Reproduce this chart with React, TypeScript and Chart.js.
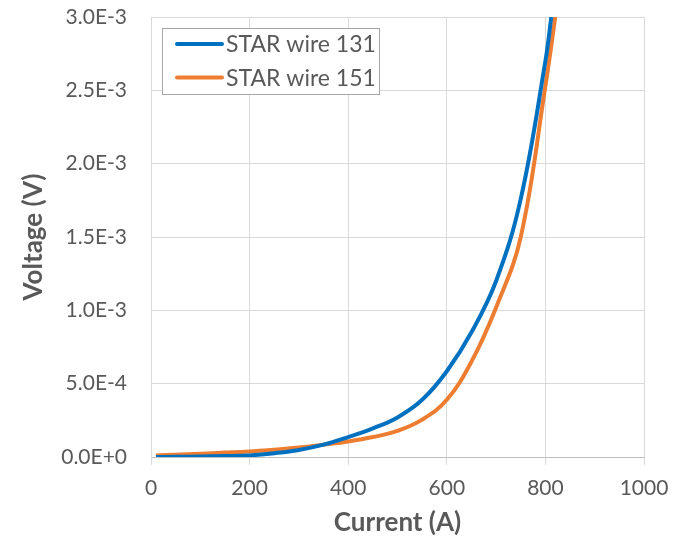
import React, { useEffect, useRef } from "react";
import { Chart, registerables } from "chart.js";

Chart.register(...registerables);

const seriesNames = ["STAR wire 131", "STAR wire 151"];
const seriesColors = ["#0070C0", "#ED7D31"];

const current131 = [10, 50, 100, 150, 200, 250, 300, 350, 400, 450, 500, 550, 600, 650, 700, 750, 800, 812];
const voltage131 = [0, 1e-6, 3e-6, 6e-6, 1.1e-5, 2.6e-5, 4.8e-5, 8.4e-5, 1.36e-4, 1.95e-4, 2.7e-4, 3.9e-4, 5.85e-4, 8.5e-4, 1.2e-3, 1.76e-3, 2.7e-3, 3.0e-3];

const current151 = [10, 50, 100, 150, 200, 250, 300, 350, 400, 450, 500, 550, 600, 650, 700, 750, 800, 820];
const voltage151 = [1e-5, 1.6e-5, 2.3e-5, 3e-5, 3.8e-5, 5e-5, 6.4e-5, 8.4e-5, 1.06e-4, 1.36e-4, 1.78e-4, 2.55e-4, 3.9e-4, 6.5e-4, 1.02e-3, 1.5e-3, 2.53e-3, 3.0e-3];

const xTicks = [0, 200, 400, 600, 800, 1000];
const yTicks = [0, 5e-4, 1e-3, 1.5e-3, 2e-3, 2.5e-3, 3e-3];

const xTitle = "Current (A)";
const yTitle = "Voltage (V)";

const FONT = "Lato, 'Open Sans', sans-serif";
const TEXT = "#595959";
const GRID = "#d9d9d9";

const insideLegend = {
  id: "insideLegend",
  afterDatasetsDraw(chart: any) {
    const ctx = chart.ctx;
    const area = chart.chartArea;
    const x0 = area.left + 11;
    const y0 = area.top + 11;
    const w = 217;
    const h = 66;
    ctx.save();
    ctx.fillStyle = "#ffffff";
    ctx.fillRect(x0, y0, w, h);
    ctx.strokeStyle = "#a6a6a6";
    ctx.lineWidth = 1;
    ctx.strokeRect(x0 + 0.5, y0 + 0.5, w, h);
    ctx.font = `23px ${FONT}`;
    ctx.textBaseline = "middle";
    ctx.textAlign = "left";
    chart.data.datasets.forEach((ds: any, i: number) => {
      const yy = y0 + 16 + i * 33.5;
      ctx.strokeStyle = ds.borderColor;
      ctx.lineWidth = 4;
      ctx.lineCap = "round";
      ctx.beginPath();
      ctx.moveTo(x0 + 15, yy);
      ctx.lineTo(x0 + 60, yy);
      ctx.stroke();
      ctx.fillStyle = TEXT;
      ctx.fillText(ds.label, x0 + 64, yy + 1);
    });
    ctx.restore();
  },
};

export default function App() {
  const ref = useRef<HTMLCanvasElement | null>(null);

  useEffect(() => {
    if (!ref.current) return;
    const mk = (xs: number[], ys: number[]) => xs.map((x, i) => ({ x, y: ys[i] }));
    const chart = new Chart(ref.current, {
      type: "line",
      data: {
        datasets: [
          {
            label: seriesNames[0],
            data: mk(current131, voltage131),
            borderColor: seriesColors[0],
            backgroundColor: seriesColors[0],
            borderWidth: 4,
            pointRadius: 0,
            tension: 0.4,
            fill: false,
          },
          {
            label: seriesNames[1],
            data: mk(current151, voltage151),
            borderColor: seriesColors[1],
            backgroundColor: seriesColors[1],
            borderWidth: 4,
            pointRadius: 0,
            tension: 0.4,
            fill: false,
          },
        ],
      },
      options: {
        responsive: false,
        animation: false,
        layout: { padding: { top: 17, right: 37, left: 0, bottom: 0 } },
        plugins: {
          legend: { display: false },
          tooltip: { enabled: false },
        },
        scales: {
          x: {
            type: "linear",
            min: xTicks[0],
            max: xTicks[xTicks.length - 1],
            afterBuildTicks: (s: any) => {
              s.ticks = xTicks.map((v) => ({ value: v }));
            },
            afterFit: (s: any) => {
              s.height = 81;
              s.paddingLeft = 0;
              s.paddingRight = 0;
            },
            grid: { color: GRID, lineWidth: 1, tickLength: 8, drawTicks: true },
            border: { color: "#bfbfbf", width: 1 },
            ticks: {
              color: TEXT,
              font: { family: FONT, size: 21 },
              padding: 11,
              maxRotation: 0,
              callback: (v: any) => String(v),
            },
            title: {
              display: true,
              text: xTitle,
              color: TEXT,
              font: { family: FONT, size: 26, weight: "bold" },
              padding: { top: 0, bottom: 0 },
            },
          },
          y: {
            type: "linear",
            min: yTicks[0],
            max: yTicks[yTicks.length - 1],
            afterBuildTicks: (s: any) => {
              s.ticks = yTicks.map((v) => ({ value: v }));
            },
            afterFit: (s: any) => {
              s.width = 151;
              s.paddingTop = 0;
              s.paddingBottom = 0;
            },
            grid: { color: GRID, lineWidth: 1, drawTicks: false },
            border: { color: GRID, width: 1 },
            ticks: {
              color: TEXT,
              font: { family: FONT, size: 21 },
              padding: 24,
              callback: (v: any) => Number(v).toExponential(1).toUpperCase(),
            },
            title: {
              display: true,
              text: yTitle,
              color: TEXT,
              font: { family: FONT, size: 26, weight: "bold" },
              padding: { top: 18, bottom: 0 },
            },
          },
        },
      } as any,
      plugins: [insideLegend],
    });
    return () => chart.destroy();
  }, []);

  return (
    <div style={{ position: "fixed", left: 0, top: 0, width: 681, height: 538, background: "#fff" }}>
      <canvas ref={ref} width={681} height={538} style={{ width: 681, height: 538 }} />
    </div>
  );
}
